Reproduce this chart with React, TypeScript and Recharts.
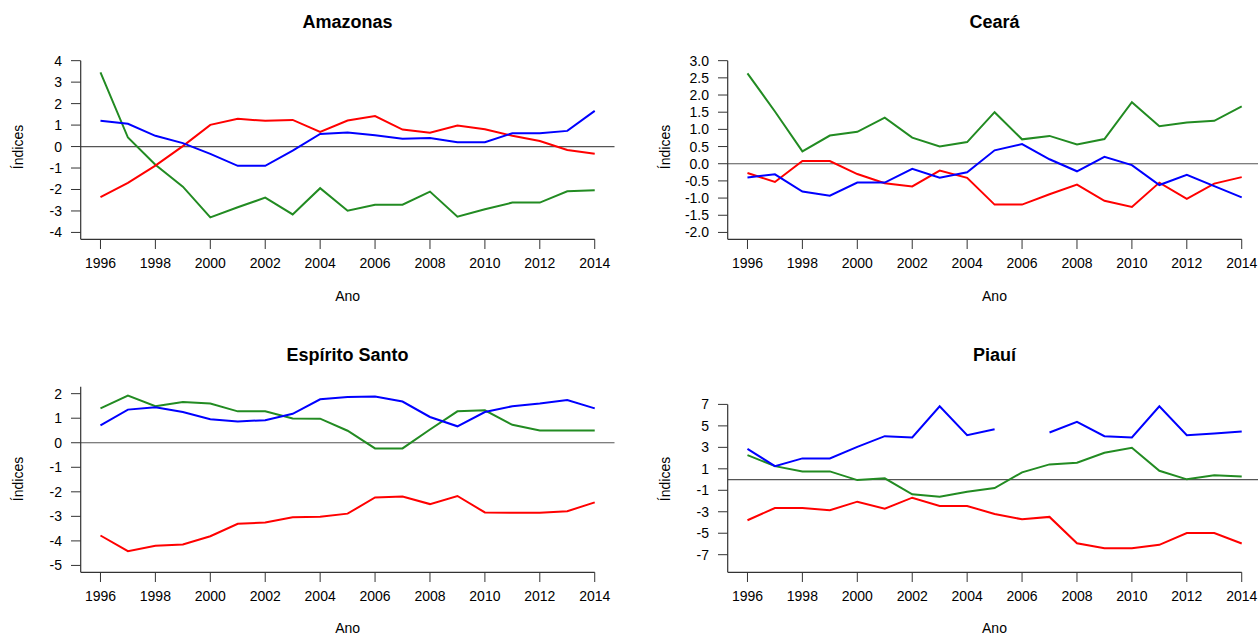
import React from "react";
import { LineChart, Line, XAxis, YAxis, ReferenceLine } from "recharts";

const anos = [1996, 1997, 1998, 1999, 2000, 2001, 2002, 2003, 2004, 2005, 2006, 2007, 2008, 2009, 2010, 2011, 2012, 2013, 2014];
const anosRotulos = [1996, 1998, 2000, 2002, 2004, 2006, 2008, 2010, 2012, 2014];

const amazonasAzul = [1.2, 1.06, 0.5, 0.16, -0.34, -0.9, -0.9, -0.19, 0.59, 0.65, 0.53, 0.36, 0.4, 0.2, 0.2, 0.62, 0.62, 0.73, 1.66];
const amazonasVermelho = [-2.36, -1.69, -0.89, 0.02, 1.01, 1.29, 1.2, 1.24, 0.68, 1.21, 1.42, 0.79, 0.64, 0.98, 0.81, 0.5, 0.26, -0.16, -0.33];
const amazonasVerde = [3.45, 0.42, -0.85, -1.87, -3.3, -2.83, -2.38, -3.16, -1.94, -2.99, -2.71, -2.71, -2.1, -3.27, -2.92, -2.61, -2.61, -2.08, -2.04];

const cearaAzul = [-0.4, -0.31, -0.81, -0.93, -0.55, -0.55, -0.15, -0.41, -0.25, 0.39, 0.57, 0.13, -0.22, 0.2, -0.04, -0.62, -0.32, -0.65, -0.98];
const cearaVermelho = [-0.27, -0.53, 0.08, 0.08, -0.3, -0.57, -0.66, -0.2, -0.41, -1.19, -1.19, -0.89, -0.61, -1.08, -1.26, -0.55, -1.02, -0.58, -0.39];
const cearaVerde = [2.63, 1.52, 0.36, 0.82, 0.93, 1.34, 0.76, 0.5, 0.63, 1.5, 0.71, 0.81, 0.56, 0.72, 1.79, 1.09, 1.2, 1.25, 1.67];

const esAzul = [0.71, 1.35, 1.45, 1.25, 0.96, 0.87, 0.92, 1.18, 1.77, 1.86, 1.88, 1.68, 1.05, 0.67, 1.25, 1.49, 1.6, 1.74, 1.4];
const esVermelho = [-3.78, -4.42, -4.2, -4.15, -3.81, -3.3, -3.25, -3.04, -3.02, -2.89, -2.23, -2.19, -2.5, -2.17, -2.84, -2.85, -2.85, -2.79, -2.43];
const esVerde = [1.4, 1.92, 1.49, 1.66, 1.6, 1.28, 1.28, 0.99, 0.98, 0.49, -0.23, -0.23, 0.54, 1.28, 1.32, 0.73, 0.5, 0.5, 0.5];

const piauiAzul = [2.86, 1.25, 1.97, 1.97, 3.05, 4.04, 3.92, 6.83, 4.13, 4.69, null, 4.38, 5.37, 4.04, 3.92, 6.83, 4.13, 4.29, 4.47];
const piauiVermelho = [-3.79, -2.65, -2.65, -2.86, -2.06, -2.71, -1.69, -2.46, -2.46, -3.21, -3.7, -3.48, -5.93, -6.39, -6.39, -6.08, -4.99, -4.99, -5.96];
const piauiVerde = [2.28, 1.25, 0.76, 0.76, -0.05, 0.11, -1.38, -1.6, -1.13, -0.79, 0.67, 1.41, 1.56, 2.49, 2.96, 0.82, 0.02, 0.39, 0.29];

const ticksAmazonas = [-4, -3, -2, -1, 0, 1, 2, 3, 4];
const ticksCeara = [-2, -1.5, -1, -0.5, 0, 0.5, 1, 1.5, 2, 2.5, 3];
const ticksES = [-5, -4, -3, -2, -1, 0, 1, 2];
const ticksPiaui = [-7, -5, -3, -1, 1, 3, 5, 7];

const limAmazonas = [-4, 4];
const limCeara = [-2, 3];
const limES = [-5, 2];
const limPiaui = [-8, 8];

const COR_AZUL = "#0000FF";
const COR_VERMELHO = "#FF0000";
const COR_VERDE = "#228B22";
const FONTE = "'Liberation Sans', Arial, sans-serif";
const FS = 14;

function montar(azul: (number | null)[], vermelho: number[], verde: number[]) {
  return anos.map((ano, i) => ({ ano, azul: azul[i], vermelho: vermelho[i], verde: verde[i] }));
}

type PainelProps = {
  titulo: string;
  x0: number;
  y0: number;
  dados: any[];
  lim: number[];
  ticks: number[];
  decimais: number;
  linhaDoTopo: boolean;
};

const PLOT_L = 80.7;
const PLOT_W = 533.8;
const PLOT_T = 53.8;
const PLOT_H = 185.5;
const CH_W = 629;
const CH_H = 317;

function Painel({ titulo, x0, y0, dados, lim, ticks, decimais, linhaDoTopo }: PainelProps) {
  const xr = anos[anos.length - 1] - anos[0];
  const xDom = [anos[0] - 0.04 * xr, anos[anos.length - 1] + 0.04 * xr];
  const yr = lim[1] - lim[0];
  const yDom = [lim[0] - 0.04 * yr, lim[1] + 0.04 * yr];
  const topoLinha = linhaDoTopo ? yDom[1] : ticks[ticks.length - 1];
  const cx = PLOT_L + PLOT_W / 2;
  const cy = PLOT_T + PLOT_H / 2;
  const txt: React.CSSProperties = {
    position: "absolute",
    fontFamily: FONTE,
    fontSize: FS,
    lineHeight: `${FS}px`,
    whiteSpace: "nowrap",
    color: "#000",
  };
  return (
    <div style={{ position: "absolute", left: x0, top: y0, width: CH_W, height: CH_H }}>
      <LineChart
        width={CH_W}
        height={CH_H}
        data={dados}
        margin={{ top: PLOT_T, right: CH_W - PLOT_L - PLOT_W, bottom: 0, left: 0 }}
      >
        <XAxis
          type="number"
          dataKey="ano"
          domain={xDom}
          ticks={anosRotulos}
          interval={0}
          allowDataOverflow
          axisLine={false}
          stroke="#333"
          tickSize={9.7}
          tickMargin={9}
          height={CH_H - PLOT_T - PLOT_H}
          tick={{ fill: "#000", fontSize: FS, fontFamily: FONTE }}
        />
        <YAxis
          type="number"
          domain={yDom}
          ticks={ticks}
          interval={0}
          allowDataOverflow
          axisLine={false}
          stroke="#333"
          tickSize={9.7}
          tickMargin={9}
          width={PLOT_L}
          tickFormatter={(v: number) => v.toFixed(decimais)}
          tick={{ fill: "#000", fontSize: FS, fontFamily: FONTE }}
        />
        <ReferenceLine y={0} stroke="#555" strokeWidth={1.2} ifOverflow="visible" />
        <ReferenceLine
          segment={[{ x: xDom[0], y: topoLinha }, { x: xDom[0], y: yDom[0] }]}
          stroke="#333"
          strokeWidth={1.2}
          ifOverflow="visible"
        />
        <ReferenceLine
          segment={[{ x: xDom[0], y: yDom[0] }, { x: anos[anos.length - 1], y: yDom[0] }]}
          stroke="#333"
          strokeWidth={1.2}
          ifOverflow="visible"
        />
        <Line type="linear" dataKey="verde" stroke={COR_VERDE} strokeWidth={2} dot={false} isAnimationActive={false} connectNulls={false} />
        <Line type="linear" dataKey="vermelho" stroke={COR_VERMELHO} strokeWidth={2} dot={false} isAnimationActive={false} connectNulls={false} />
        <Line type="linear" dataKey="azul" stroke={COR_AZUL} strokeWidth={2} dot={false} isAnimationActive={false} connectNulls={false} />
      </LineChart>
      <div style={{ ...txt, left: cx, top: 22, fontSize: 18, lineHeight: "18px", fontWeight: "bold", transform: "translate(-50%, -50%)" }}>
        {titulo}
      </div>
      <div style={{ ...txt, left: cx, top: 295.5, lineHeight: "11px", transform: "translate(-50%, -50%)" }}>Ano</div>
      <div style={{ ...txt, left: 18, top: cy, transform: "translate(-50%, -50%) rotate(-90deg)" }}>Índices</div>
    </div>
  );
}

export default function App() {
  return (
    <div
      style={{
        position: "absolute",
        left: 0,
        top: 0,
        width: 1258,
        height: 635,
        overflow: "hidden",
        background: "#fff",
      }}
    >
      <Painel titulo="Amazonas" x0={0} y0={0} dados={montar(amazonasAzul, amazonasVermelho, amazonasVerde)} lim={limAmazonas} ticks={ticksAmazonas} decimais={0} linhaDoTopo={false} />
      <Painel titulo="Ceará" x0={646.9} y0={0} dados={montar(cearaAzul, cearaVermelho, cearaVerde)} lim={limCeara} ticks={ticksCeara} decimais={1} linhaDoTopo={false} />
      <Painel titulo="Espírito Santo" x0={0} y0={332.6} dados={montar(esAzul, esVermelho, esVerde)} lim={limES} ticks={ticksES} decimais={0} linhaDoTopo={true} />
      <Painel titulo="Piauí" x0={646.9} y0={332.6} dados={montar(piauiAzul, piauiVermelho, piauiVerde)} lim={limPiaui} ticks={ticksPiaui} decimais={0} linhaDoTopo={false} />
    </div>
  );
}
